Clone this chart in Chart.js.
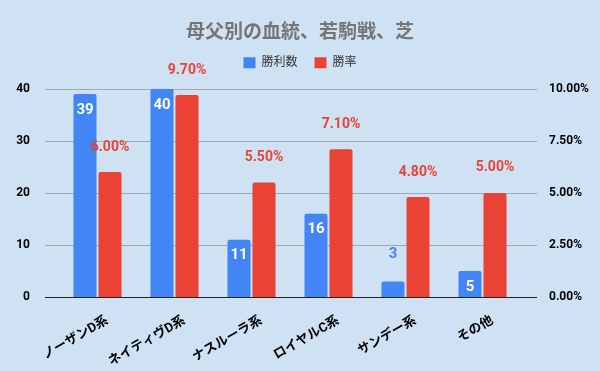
<!DOCTYPE html>
<html><head><meta charset="utf-8">
<script src="https://cdn.jsdelivr.net/npm/chart.js@4/dist/chart.umd.min.js"></script>
<style>html,body{margin:0;padding:0;background:#cfe2f3;}#wrap{width:600px;height:371px;}</style>
</head><body><div id="wrap"><canvas id="c" width="600" height="371"></canvas></div>
<script>
const categories = ["ノーザンD系","ネイティヴD系","ナスルーラ系","ロイヤルC系","サンデー系","その他"];
const winCounts = [39, 40, 11, 16, 3, 5];
const winRates = [6.00, 9.70, 5.50, 7.10, 4.80, 5.00];
const leftTicks = [0, 10, 20, 30, 40];
const rightTicks = [0, 2.5, 5, 7.5, 10];
const seriesNames = ["勝利数", "勝率"];

const FONT = "Roboto, 'Noto Sans CJK JP', sans-serif";
const BLUE = "#4285f4", RED = "#ea4335";

const legendSpace = {
  id: 'legendSpace',
  beforeLayout(chart) {
    const lg = chart.legend;
    if (lg && !lg._spaced) {
      const f = lg.fit.bind(lg);
      lg.fit = function () { f(); this.height += 1; };
      lg._spaced = true;
    }
  },
  afterLayout(chart) {
    const lg = chart.legend;
    if (lg) { lg.top -= 9; lg.bottom -= 9; }
  }
};

const deco = {
  id: 'deco',
  beforeDatasetsDraw(chart) {
    const ctx = chart.ctx, y = chart.scales.y;
    ctx.save();
    ctx.strokeStyle = '#a2a9b1'; ctx.lineWidth = 1;
    leftTicks.forEach(v => {
      if (v === 0) return;
      const py = Math.round(y.getPixelForValue(v)) + 0.5;
      ctx.beginPath(); ctx.moveTo(45, py); ctx.lineTo(537, py); ctx.stroke();
    });
    ctx.restore();
  },
  afterDatasetsDraw(chart) {
    const ctx = chart.ctx, y = chart.scales.y;
    ctx.save();
    const py = Math.round(y.getPixelForValue(0)) + 0.5;
    ctx.strokeStyle = '#222'; ctx.lineWidth = 1;
    ctx.beginPath(); ctx.moveTo(45, py); ctx.lineTo(537, py); ctx.stroke();
    ctx.textAlign = 'center'; ctx.textBaseline = 'middle';
    ctx.font = "bold 15px " + FONT;
    chart.getDatasetMeta(0).data.forEach((el, i) => {
      const v = winCounts[i];
      if (v >= 5) { ctx.fillStyle = '#fff'; ctx.fillText(String(v), el.x, el.y + 16); }
      else { ctx.fillStyle = BLUE; ctx.fillText(String(v), el.x, el.y - 27); }
    });
    ctx.font = "bold 14px " + FONT;
    ctx.fillStyle = RED;
    chart.getDatasetMeta(1).data.forEach((el, i) => {
      ctx.fillText(winRates[i].toFixed(2) + '%', el.x, el.y - 25);
    });
    ctx.restore();
  }
};

new Chart(document.getElementById('c'), {
  type: 'bar',
  data: {
    labels: categories,
    datasets: [
      { label: seriesNames[0], data: winCounts, backgroundColor: BLUE, yAxisID: 'y',
        categoryPercentage: 0.65, barPercentage: 0.92, borderRadius: {topLeft: 2, topRight: 2}, borderSkipped: 'bottom' },
      { label: seriesNames[1], data: winRates, backgroundColor: RED, yAxisID: 'y2',
        categoryPercentage: 0.65, barPercentage: 0.92, borderRadius: {topLeft: 2, topRight: 2}, borderSkipped: 'bottom' }
    ]
  },
  plugins: [legendSpace, deco],
  options: {
    responsive: false, animation: false,
    layout: { padding: 0 },
    plugins: {
      title: { display: true, text: '母父別の血統、若駒戦、芝', color: '#757575',
        font: { family: FONT, size: 19, weight: 'bold' }, padding: { top: 22, bottom: 4 } },
      legend: { display: true, position: 'top',
        labels: { boxWidth: 12, boxHeight: 11, color: '#333', font: { family: FONT, size: 12 }, padding: 17 } },
      tooltip: { enabled: false }
    },
    scales: {
      x: {
        grid: { display: false, drawTicks: false }, border: { display: false },
        ticks: { color: '#000', font: { family: FONT, size: 13, weight: 'bold' }, maxRotation: 30, minRotation: 30, padding: 16, labelOffset: 10 },
        afterFit(s) { s.height = 74; }
      },
      y: {
        position: 'left', min: 0, max: 40,
        afterBuildTicks(s) { s.ticks = leftTicks.map(v => ({ value: v })); },
        grid: { display: false }, border: { display: false },
        ticks: { color: '#000', font: { family: FONT, size: 12, weight: 'bold' }, padding: 21 },
        afterFit(s) { s.width = 59; }
      },
      y2: {
        position: 'right', min: 0, max: 10,
        afterBuildTicks(s) { s.ticks = rightTicks.map(v => ({ value: v })); },
        grid: { display: false }, border: { display: false },
        ticks: { color: '#000', font: { family: FONT, size: 12, weight: 'bold' }, padding: 20,
          callback: v => Number(v).toFixed(2) + '%' },
        afterFit(s) { s.width = 79; }
      }
    }
  }
});
</script></body></html>
